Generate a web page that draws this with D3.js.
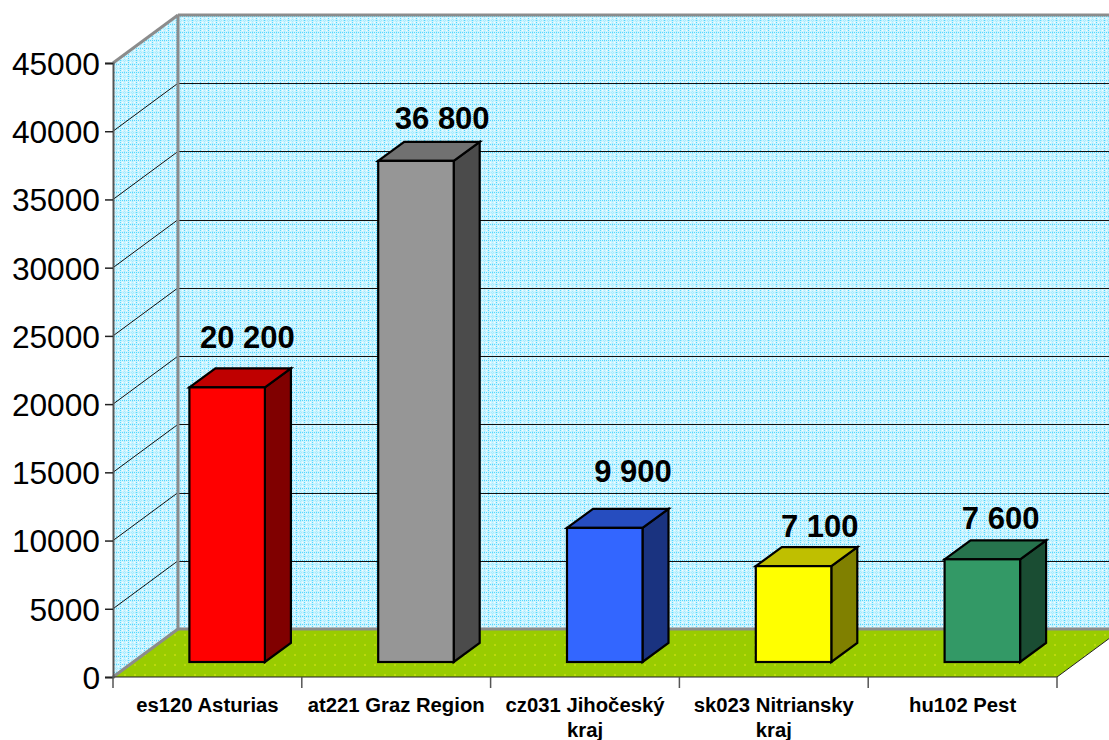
<!DOCTYPE html>
<html>
<head>
<meta charset="utf-8">
<script src="https://cdn.jsdelivr.net/npm/d3@7"></script>
<style>
  body { margin: 0; background: #fff; }
  svg { display: block; }
  text { font-family: "Liberation Sans", Arial, sans-serif; fill: #000; }
</style>
</head>
<body>
<div id="chart"></div>
<script>
  // data
  var categories = ["es120 Asturias", "at221 Graz Region", "cz031 Jihočeský kraj", "sk023 Nitriansky kraj", "hu102 Pest"];
  var values = [20200, 36800, 9900, 7100, 7600];
  var valueLabels = ["20 200", "36 800", "9 900", "7 100", "7 600"];
  var yTicks = [0, 5000, 10000, 15000, 20000, 25000, 30000, 35000, 40000, 45000];

  // bar colours: front, top, side
  var front = ["#ff0000", "#969696", "#3366ff", "#ffff00", "#339966"];
  var top_ = ["#bf0000", "#717171", "#264dbf", "#bfbf00", "#26734d"];
  var side = ["#800000", "#4b4b4b", "#1a3380", "#808000", "#1a4d33"];

  // the value labels were dragged by hand in the original, so each has its own nudge
  var labelNudge = [[20, -50], [26, -43], [28, -57], [26, -40], [18, -41]];

  var width = 1109, height = 740;
  var wallDx = 65, wallDy = -48;   // depth of the whole box
  var barDx = 26, barDy = -19;     // depth of one bar
  var barInX = 20, barInY = -15;   // how far the bars stand from the front edge
  var barW = 75.5;

  var svg = d3.select("#chart").append("svg")
    .attr("width", width)
    .attr("height", height);

  var y = d3.scaleLinear().domain([0, 45000]).range([677, 63]);
  var x = d3.scaleBand().domain(categories).range([113, 1057]);
  var x0 = x.range()[0], x1 = x.range()[1];

  var poly = d3.line();

  // fill patterns of the walls and the floor
  var defs = svg.append("defs");
  var wallPat = defs.append("pattern")
    .attr("id", "wall").attr("patternUnits", "userSpaceOnUse")
    .attr("width", 8).attr("height", 8);
  wallPat.append("rect").attr("width", 8).attr("height", 8).attr("fill", "#cdf4ff");
  // dotted lines of the tile
  d3.range(0, 8, 2).forEach(function(k) {
    wallPat.append("rect").attr("x", k).attr("y", 0).attr("width", 1).attr("height", 1).attr("fill", "#55d8ff");
    wallPat.append("rect").attr("x", 0).attr("y", k).attr("width", 1).attr("height", 1).attr("fill", "#55d8ff");
    wallPat.append("rect").attr("x", k + 1).attr("y", 4).attr("width", 1).attr("height", 1).attr("fill", "#a4ebff");
    wallPat.append("rect").attr("x", 4).attr("y", k + 1).attr("width", 1).attr("height", 1).attr("fill", "#a4ebff");
  });
  wallPat.append("rect").attr("x", 2).attr("y", 2).attr("width", 1).attr("height", 1).attr("fill", "#f4fdff");
  wallPat.append("rect").attr("x", 6).attr("y", 2).attr("width", 1).attr("height", 1).attr("fill", "#f4fdff");
  wallPat.append("rect").attr("x", 2).attr("y", 6).attr("width", 1).attr("height", 1).attr("fill", "#f4fdff");
  wallPat.append("rect").attr("x", 6).attr("y", 6).attr("width", 1).attr("height", 1).attr("fill", "#f4fdff");

  var floorPat = defs.append("pattern")
    .attr("id", "floor").attr("patternUnits", "userSpaceOnUse")
    .attr("width", 10).attr("height", 10);
  floorPat.append("rect").attr("width", 10).attr("height", 10).attr("fill", "#99cc00");
  floorPat.append("rect").attr("x", 4).attr("y", 4).attr("width", 2).attr("height", 2).attr("fill", "#bcd80c");

  // walls
  svg.append("path")
    .attr("d", poly([[x0, y(45000)], [x0 + wallDx, y(45000) + wallDy], [x0 + wallDx, y(0) + wallDy], [x0, y(0)]]) + "Z")
    .attr("fill", "url(#wall)");
  svg.append("path")
    .attr("d", poly([[x0 + wallDx, y(45000) + wallDy], [x1 + wallDx, y(45000) + wallDy], [x1 + wallDx, y(0) + wallDy], [x0 + wallDx, y(0) + wallDy]]) + "Z")
    .attr("fill", "url(#wall)");

  // floor
  svg.append("path")
    .attr("d", poly([[x0, y(0)], [x0 + wallDx, y(0) + wallDy], [x1 + wallDx, y(0) + wallDy], [x1, y(0)]]) + "Z")
    .attr("fill", "url(#floor)");

  // grid lines on both walls
  var gridTicks = yTicks.filter(function(d) { return d > 0 && d < 45000; });
  svg.selectAll(".gridBack").data(gridTicks).enter().append("line")
    .attr("x1", x0 + wallDx).attr("x2", x1 + wallDx)
    .attr("y1", function(d) { return Math.round(y(d) + wallDy) + 0.5; })
    .attr("y2", function(d) { return Math.round(y(d) + wallDy) + 0.5; })
    .attr("stroke", "#111").attr("stroke-width", 1);
  svg.selectAll(".gridSide").data(gridTicks).enter().append("line")
    .attr("x1", x0).attr("x2", x0 + wallDx)
    .attr("y1", function(d) { return y(d); })
    .attr("y2", function(d) { return y(d) + wallDy; })
    .attr("stroke", "#111").attr("stroke-width", 1);

  // grey edges of the box
  var edge = "#8c8c8c";
  var edges = [
    [[x0, y(45000)], [x0 + wallDx, y(45000) + wallDy]],
    [[x0 + wallDx, y(45000) + wallDy], [x1 + wallDx, y(45000) + wallDy]],
    [[x0 + wallDx, y(45000) + wallDy], [x0 + wallDx, y(0) + wallDy]],
    [[x0 + wallDx, y(0) + wallDy], [x1 + wallDx, y(0) + wallDy]],
    [[x0, y(0)], [x0 + wallDx, y(0) + wallDy]]
  ];
  svg.selectAll(".edge").data(edges).enter().append("path")
    .attr("d", function(d) { return poly(d); })
    .attr("fill", "none").attr("stroke", edge).attr("stroke-width", 3);

  svg.append("path")
    .attr("d", poly([[x0, y(0)], [x1, y(0)], [x1 + wallDx, y(0) + wallDy]]))
    .attr("fill", "none").attr("stroke", "#222").attr("stroke-width", 1);

  // y axis
  var yAxis = svg.append("g")
    .attr("transform", "translate(" + x0 + ",0)")
    .call(d3.axisLeft(y).tickValues(yTicks).tickFormat(d3.format("d")).tickSize(8).tickPadding(5));
  yAxis.select(".domain").attr("stroke", "#555").attr("stroke-width", 2);
  yAxis.selectAll("line").attr("stroke", "#222").attr("stroke-width", 1.5);
  yAxis.selectAll("text").style("font-size", "31.7px").attr("dy", "0.36em").attr("fill", "#000");

  // x axis, ticks sit between the categories
  var xAxis = svg.append("g").attr("transform", "translate(0," + y(0) + ")")
    .call(d3.axisBottom(x).tickSize(0).tickPadding(0));
  xAxis.select(".domain").remove();
  xAxis.selectAll("text").each(function(d) {
    // long names break before "kraj"
    var parts = d.replace(" kraj", "|kraj").split("|");
    var t = d3.select(this).text(null).attr("y", 0).attr("dy", null)
      .style("font-size", "20.3px").style("font-weight", "bold").attr("fill", "#000");
    parts.forEach(function(p, i) {
      t.append("tspan").attr("x", 0).attr("y", 35 + i * 25).text(p);
    });
  });
  svg.selectAll(".xTick").data(d3.range(categories.length + 1)).enter().append("line")
    .attr("x1", function(i) { return x0 + i * x.step(); })
    .attr("x2", function(i) { return x0 + i * x.step(); })
    .attr("y1", y(0)).attr("y2", y(0) + 11)
    .attr("stroke", "#555").attr("stroke-width", 1.5);

  // bars
  var bars = svg.selectAll(".bar").data(values).enter().append("g").attr("class", "bar");
  function barX(i) { return x(categories[i]) + (x.bandwidth() - 76) / 2 + barInX; }
  function barLow() { return y(0) + barInY; }
  function barTop(d) { return y(d) + barInY + 1; }

  bars.append("path") // side
    .attr("d", function(d, i) {
      var r = barX(i) + barW;
      return poly([[r, barTop(d)], [r + barDx, barTop(d) + barDy], [r + barDx, barLow() + barDy], [r, barLow()]]) + "Z";
    })
    .attr("fill", function(d, i) { return side[i]; });
  bars.append("path") // top
    .attr("d", function(d, i) {
      var l = barX(i), r = l + barW;
      return poly([[l, barTop(d)], [l + barDx, barTop(d) + barDy], [r + barDx, barTop(d) + barDy], [r, barTop(d)]]) + "Z";
    })
    .attr("fill", function(d, i) { return top_[i]; });
  bars.append("rect") // front
    .attr("x", function(d, i) { return barX(i); })
    .attr("y", function(d) { return barTop(d); })
    .attr("width", barW)
    .attr("height", function(d) { return barLow() - barTop(d); })
    .attr("fill", function(d, i) { return front[i]; });
  bars.selectAll("path,rect")
    .attr("stroke", "#000").attr("stroke-width", 2.2).attr("stroke-linejoin", "miter");

  // value labels
  svg.selectAll(".valueLabel").data(values).enter().append("text")
    .attr("class", "valueLabel")
    .attr("x", function(d, i) { return barX(i) + 38 + labelNudge[i][0]; })
    .attr("y", function(d, i) { return barTop(d) + labelNudge[i][1]; })
    .attr("dy", "0.35em")
    .attr("text-anchor", "middle")
    .style("font-size", "31px")
    .style("font-weight", "bold")
    .text(function(d, i) { return valueLabels[i]; });
</script>
</body>
</html>
